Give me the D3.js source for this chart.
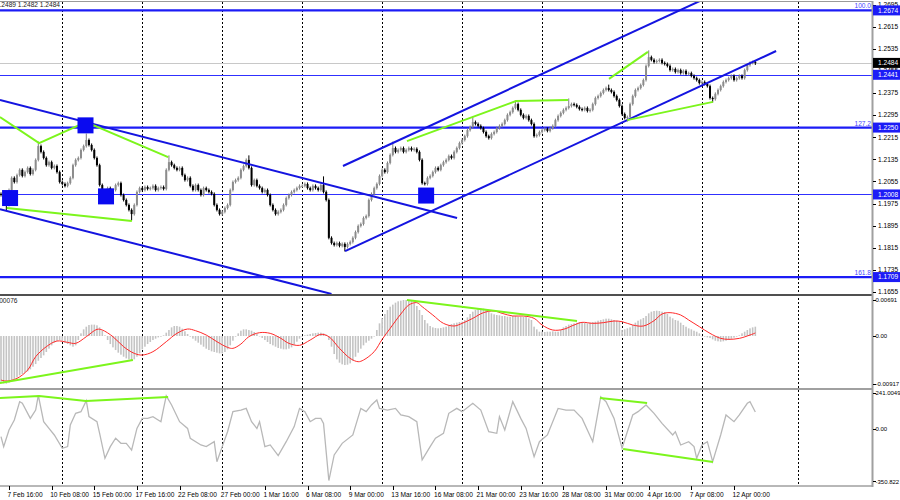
<!DOCTYPE html>
<html><head><meta charset="utf-8">
<script src="https://cdn.jsdelivr.net/npm/d3@7"></script>
<style>
body{margin:0;background:#fff}
svg{display:block}
text{font-family:"Liberation Sans",Arial,sans-serif;font-size:6.6px}
</style></head>
<body><svg id="c" width="900" height="500"></svg>
<script>
// ---------------- DATA ----------------
const headerText = "1.2489 1.2482 1.2484";
const macdHeader = "0.00076";
const firstBar = -3;
const firstOpen = 1.2010;
const closes = [
1.2006,1.1988,1.1970,
1.2024,1.2068,1.2053,1.2078,1.2097,1.2075,1.2089,1.2104,1.2082,1.2097,
1.2133,1.2183,1.2162,1.2140,1.2114,1.2125,1.2104,1.2111,1.2089,1.2053,
1.2046,1.2039,1.2049,1.2068,1.2114,1.2133,1.2140,1.2169,1.2183,1.2205,
1.2187,1.2169,1.2140,1.2114,1.2042,1.2006,1.2017,1.2031,1.2013,1.2024,
1.2042,1.2049,1.2006,1.1988,1.1970,1.1952,1.1937,1.1970,1.2017,1.2031,
1.2024,1.2035,1.2028,1.2031,1.2039,1.2024,1.2031,1.2035,1.2028,1.2097,
1.2125,1.2114,1.2104,1.2097,1.2104,1.2078,1.2060,1.2068,1.2039,1.2024,
1.2042,1.2024,1.2006,1.2031,1.2024,1.2017,1.2010,1.1970,1.1952,1.1937,
1.1945,1.1959,1.1970,1.2024,1.2053,1.2060,1.2068,1.2097,1.2111,1.2133,
1.2104,1.2042,1.2060,1.2039,1.2031,1.2017,1.2024,1.2006,1.1970,1.1952,
1.1937,1.1945,1.1952,1.1970,1.1995,1.2006,1.2017,1.2024,1.2031,1.2039,
1.2039,1.2046,1.2031,1.2024,1.2039,1.2031,1.2024,1.2042,1.2017,1.1988,
1.1851,1.1832,1.1825,1.1832,1.1822,1.1829,1.1818,1.1829,1.1836,1.1851,
1.1872,1.1894,1.1901,1.1923,1.1930,1.1988,1.2010,1.2031,1.2046,1.2075,
1.2097,1.2089,1.2122,1.2151,1.2176,1.2162,1.2169,1.2176,1.2162,1.2169,
1.2176,1.2169,1.2173,1.2162,1.2133,1.2049,1.2046,1.2068,1.2075,1.2089,
1.2104,1.2097,1.2114,1.2125,1.2133,1.2147,1.2140,1.2162,1.2176,1.2194,
1.2205,1.2219,1.2241,1.2252,1.2270,1.2263,1.2256,1.2248,1.2234,1.2219,
1.2212,1.2227,1.2234,1.2248,1.2256,1.2263,1.2277,1.2296,1.2306,1.2321,
1.2335,1.2314,1.2296,1.2285,1.2292,1.2277,1.2263,1.2219,1.2223,1.2234,
1.2241,1.2245,1.2238,1.2248,1.2256,1.2277,1.2292,1.2303,1.2314,1.2321,
1.2328,1.2335,1.2332,1.2325,1.2317,1.2314,1.2321,1.2310,1.2314,1.2335,
1.2357,1.2364,1.2375,1.2386,1.2393,1.2386,1.2379,1.2364,1.2350,1.2328,
1.2299,1.2285,1.2288,1.2335,1.2364,1.2386,1.2393,1.2404,1.2422,1.2473,
1.2505,1.2495,1.2487,1.2491,1.2495,1.2484,1.2480,1.2473,1.2458,1.2462,
1.2451,1.2458,1.2447,1.2455,1.2444,1.2447,1.2437,1.2429,1.2422,1.2411,
1.2415,1.2408,1.2400,1.2357,1.2353,1.2372,1.2386,1.2400,1.2415,1.2422,
1.2429,1.2437,1.2422,1.2429,1.2437,1.2429,1.2458,1.2476,1.2484,1.2487,
1.2484
];
const wickHighs = [[11,1.2194],[29,1.2223],[60,1.2144],[90,1.2144],[118,1.2068],[144,1.2194],[174,1.2285],[190,1.2343],[210,1.2350],[225,1.2400],[240,1.2524],[280,1.2489]];
const wickLows = [[-1,1.1955],[46,1.1919],[126,1.1807],[232,1.2277],[264,1.2346],[280,1.2482]];

const macdHist = [
-0.00877,-0.00909,-0.00915,-0.00896,
-0.00858,-0.00832,-0.00794,-0.00755,-0.00730,-0.00704,-0.00678,-0.00640,-0.00589,-0.00538,
-0.00474,-0.00422,-0.00371,-0.00307,-0.00243,-0.00179,-0.00128,-0.00090,-0.00077,-0.00090,
-0.00128,-0.00154,-0.00179,-0.00205,-0.00179,-0.00077,0.00051,0.00128,0.00179,0.00211,
0.00218,0.00218,0.00205,0.00166,0.00102,0.00013,-0.00077,-0.00154,-0.00218,-0.00269,
-0.00320,-0.00358,-0.00397,-0.00429,-0.00448,-0.00461,-0.00448,-0.00397,-0.00333,-0.00256,
-0.00205,-0.00154,-0.00115,-0.00077,-0.00051,-0.00026,-0.00013,0.00013,0.00064,0.00115,
0.00166,0.00192,0.00192,0.00179,0.00141,0.00090,0.00038,-0.00013,-0.00051,-0.00090,
-0.00128,-0.00166,-0.00205,-0.00243,-0.00269,-0.00294,-0.00307,-0.00320,-0.00333,-0.00333,
-0.00307,-0.00256,-0.00179,-0.00090,-0.00013,0.00051,0.00102,0.00128,0.00128,0.00115,
0.00102,0.00077,0.00038,0,-0.00038,-0.00077,-0.00115,-0.00154,-0.00179,-0.00205,
-0.00230,-0.00243,-0.00256,-0.00256,-0.00243,-0.00218,-0.00166,-0.00109,-0.00051,-0.00013,
0.00013,0.00026,0.00038,0.00051,0.00058,0.00064,0.00064,0.00051,0.00026,-0.00077,
-0.00205,-0.00346,-0.00448,-0.00512,-0.00544,-0.00557,-0.00550,-0.00525,-0.00474,-0.00397,
-0.00320,-0.00243,-0.00179,-0.00128,-0.00090,-0.00051,0,0.00115,0.00243,0.00339,
0.00422,0.00499,0.00563,0.00602,0.00640,0.00666,0.00678,0.00691,0.00691,0.00685,
0.00672,0.00640,0.00576,0.00499,0.00403,0.00307,0.00243,0.00192,0.00166,0.00154,
0.00147,0.00154,0.00166,0.00179,0.00205,0.00230,0.00243,0.00256,0.00269,0.00275,
0.00307,0.00358,0.00422,0.00467,0.00499,0.00525,0.00531,0.00525,0.00499,0.00461,
0.00435,0.00416,0.00403,0.00397,0.00384,0.00384,0.00371,0.00371,0.00384,0.00384,
0.00371,0.00371,0.00371,0.00371,0.00339,0.00307,0.00179,0.00128,0.00083,0.00083,
0.00077,0.00083,0.00083,0.00090,0.00083,0.00083,0.00115,0.00166,0.00192,0.00218,
0.00230,0.00243,0.00256,0.00269,0.00269,0.00256,0.00243,0.00256,0.00269,0.00275,
0.00294,0.00307,0.00320,0.00333,0.00333,0.00320,0.00307,0.00294,0.00275,0.00115,
0.00128,0.00147,0.00166,0.00211,0.00256,0.00294,0.00320,0.00346,0.00384,0.00435,
0.00467,0.00480,0.00486,0.00480,0.00467,0.00461,0.00422,0.00371,0.00339,0.00307,
0.00294,0.00256,0.00211,0.00179,0.00147,0.00128,0.00102,0.00083,0.00051,0,
-0.00013,-0.00026,-0.00038,-0.00064,-0.00090,-0.00102,-0.00109,-0.00102,-0.00090,-0.00077,
-0.00051,-0.00032,-0.00013,0.00013,0.00051,0.00083,0.00115,0.00147,0.00166,0.00179
];
const signalBars = [-3,-1,3,7,10,14,18,22,25,29,33,35,39,43,47,50,54,59,63,67,70,74,78,82,84,87,90,94,98,102,105,109,113,117,120,124,128,131,133,137,140,143,147,150,153,155,159,163,167,170,174,178,182,185,189,193,197,200,204,208,212,215,219,223,227,230,234,238,242,245,248,252,255,259,263,267,270,274,278,280];
const signalValues = [-0.00845,-0.00864,-0.00813,-0.00653,-0.00397,-0.00205,-0.00096,-0.00122,-0.00141,-0.00013,0.00128,0.00115,-0.00013,-0.00205,-0.00333,-0.00365,-0.00301,-0.00109,0.00051,0.00134,0.00102,0.00019,-0.00109,-0.00218,-0.00237,-0.00154,-0.00013,0.00064,0.00051,-0.00045,-0.00141,-0.00179,-0.00077,0.00032,-0.00013,-0.00237,-0.00429,-0.00493,-0.00461,-0.00301,-0.00064,0.00147,0.00422,0.00595,0.00640,0.00563,0.00403,0.00243,0.00192,0.00243,0.00339,0.00448,0.00480,0.00435,0.00384,0.00384,0.00339,0.00211,0.00115,0.00128,0.00211,0.00262,0.00243,0.00256,0.00288,0.00275,0.00211,0.00192,0.00294,0.00422,0.00448,0.00403,0.00307,0.00179,0.00051,-0.00045,-0.00064,-0.00045,0.00019,0.00058];

const cciBars = [-3,-2,0,2,4,5,8,10,11,13,15,17,20,22,23,25,27,29,30,33,34,36,38,40,42,44,46,48,50,52,54,57,58,59,61,64,67,68,72,74,77,78,80,82,84,87,89,91,93,94,96,98,101,104,107,109,111,113,115,117,118,120,122,125,129,132,134,136,138,139,142,145,147,150,153,155,158,160,163,165,168,170,174,177,180,183,184,186,189,192,194,197,199,202,206,209,212,215,219,222,224,227,230,234,236,239,242,245,249,250,252,255,257,258,260,262,264,267,269,272,274,277,278,280];
const cciValues = [-51,-118,-7,60,183,172,71,127,225,49,4,-40,-129,-118,27,105,116,190,83,49,-29,-196,-118,-62,-96,-96,-141,4,71,71,83,49,138,222,161,49,4,-62,-107,-118,-85,-219,-118,-18,116,127,138,49,4,49,-118,-107,-178,-85,16,138,116,49,71,71,38,-345,-174,-96,-40,138,116,161,194,138,127,138,94,83,49,-207,-118,-62,-29,105,138,116,172,127,-18,-29,83,-7,183,71,4,-185,-85,-40,138,127,127,71,-85,215,183,71,-129,94,116,161,105,38,-40,-18,-107,-85,-118,-196,-107,-85,-219,-40,94,49,94,172,183,114];

const dateTickBars = [0,16,32,48,64,80,96,112,128,144,160,176,192,208,224,240,256,272];
const dateTickLabels = ["7 Feb 16:00","10 Feb 08:00","15 Feb 00:00","17 Feb 16:00","22 Feb 08:00","27 Feb 00:00","1 Mar 16:00","6 Mar 08:00","9 Mar 00:00","13 Mar 16:00","16 Mar 08:00","21 Mar 00:00","23 Mar 16:00","28 Mar 08:00","31 Mar 00:00","4 Apr 16:00","7 Apr 08:00","12 Apr 00:00"];
const gridBars = [20,50,80,110,140,170,200,230,260,296];
const priceTicks = [1.2695,1.2615,1.2535,1.2455,1.2375,1.2295,1.2215,1.2135,1.2055,1.1975,1.1895,1.1815,1.1735,1.1655];
const fibLevels = [1.2674,1.2250,1.1709];
const fibLabels = ["100.0","127.2","161.8"];
const srLevels = [1.2441,1.2008];
const lastPrice = 1.2484;
const macdTicks = [0.00691,0,-0.00917];
const macdTickLabels = ["0.00691","0.00","-0.00917"];
const cciTicks = [241.0049,0,-350.822];
const cciTickLabels = ["241.0049","0.00","-350.822"];

const channelLines = [
  [[-3.4,1.2350],[168.1,1.1923]],
  [[-3.4,1.1955],[121,1.1648]],
  [[125.3,1.2111],[259.2,1.2708]],
  [[126.1,1.1803],[287.8,1.2527]]
];
const priceGreen = [
  [[-3.4,1.2288],[11.3,1.2194],[28.9,1.2270],[59.7,1.2143]],
  [[-0.8,1.1959],[46.1,1.1912]],
  [[149.3,1.2201],[190.2,1.2346],[209.7,1.2350]],
  [[225.1,1.2426],[239.7,1.2524]],
  [[231.9,1.2277],[264.1,1.2343]]
];
const macdGreen = [
  [[-3.4,-0.00902],[46.5,-0.00461]],
  [[149.3,0.00691],[213.1,0.00288]]
];
const cciGreen = [
  [[-3.4,207],[11.3,221],[28.9,187],[59.7,214]],
  [[221.7,207],[239.4,174]],
  [[230.4,-134],[264.1,-221]]
];
const squareMarks = [[0.4,1.1995],[28.7,1.2258],[36.4,1.2001],[156.5,1.2004]];

// ---------------- DRAW ----------------
const svg = d3.select("#c");
const R = 872;
const x = d3.scaleLinear().domain([0,272]).range([9,734]);
const yP = d3.scaleLinear().domain([1.1655,1.2695]).range([292,4.6]);
const yM = d3.scaleLinear().domain([-0.00917,0.00691]).range([383.8,300]);
const yC = d3.scaleLinear().domain([-350.822,241.0049]).range([481.4,393]);

const defs = svg.append("defs");
function clip(id,y0,h){defs.append("clipPath").attr("id",id).append("rect").attr("x",0).attr("y",y0).attr("width",R).attr("height",h);}
clip("cm",2,292); clip("cd",296,92); clip("cc",390,96);

const BLUE="#1c1cf6", LIME="#7cf51c";

// vertical dashed grid
svg.append("g").selectAll("line").data(gridBars).join("line")
  .attr("x1",d=>Math.round(x(d))+0.5).attr("x2",d=>Math.round(x(d))+0.5)
  .attr("y1",2).attr("y2",486).attr("stroke","#000").attr("stroke-width",1).attr("stroke-dasharray","2,2");

// ---- main panel
const gm = svg.append("g").attr("clip-path","url(#cm)");
gm.append("line").attr("x1",0).attr("x2",R).attr("y1",Math.round(yP(lastPrice))+0.5).attr("y2",Math.round(yP(lastPrice))+0.5).attr("stroke","#c8c8c8");
gm.selectAll("line.fib").data(fibLevels).join("line").attr("class","fib")
  .attr("x1",0).attr("x2",R).attr("y1",d=>yP(d)).attr("y2",d=>yP(d)).attr("stroke",BLUE).attr("stroke-width",2.2);
gm.selectAll("line.sr").data(srLevels).join("line").attr("class","sr")
  .attr("x1",0).attr("x2",R).attr("y1",d=>Math.round(yP(d))+0.5).attr("y2",d=>Math.round(yP(d))+0.5).attr("stroke","#3030ff").attr("stroke-width",1);

// candles
const bars = closes.map((c,k)=>{const o=k?closes[k-1]:firstOpen;return {i:firstBar+k,o,c,h:Math.max(o,c),l:Math.min(o,c)};});
wickHighs.forEach(([i,v])=>{const b=bars[i-firstBar]; if(b) b.h=Math.max(b.h,v);});
wickLows.forEach(([i,v])=>{const b=bars[i-firstBar]; if(b) b.l=Math.min(b.l,v);});
const cg = gm.append("g");
cg.selectAll("line").data(bars).join("line")
  .attr("x1",d=>x(d.i)).attr("x2",d=>x(d.i))
  .attr("y1",d=>yP(d.h)-1.5).attr("y2",d=>yP(d.l)+1.5)
  .attr("stroke",d=>d.c>=d.o?"#808080":"#000").attr("stroke-width",1);
cg.selectAll("rect").data(bars).join("rect")
  .attr("x",d=>x(d.i)-1).attr("width",2)
  .attr("y",d=>Math.min(yP(d.o),yP(d.c)))
  .attr("height",d=>Math.max(1,Math.abs(yP(d.o)-yP(d.c))))
  .attr("fill",d=>d.c>=d.o?"#8c8c8c":"#000");

const lineP = d3.line().x(d=>x(d[0])).y(d=>yP(d[1]));
gm.selectAll("path.ch").data(channelLines).join("path").attr("class","ch")
  .attr("d",lineP).attr("fill","none").attr("stroke","#1414e0").attr("stroke-width",2);
gm.selectAll("path.gr").data(priceGreen).join("path").attr("class","gr")
  .attr("d",lineP).attr("fill","none").attr("stroke",LIME).attr("stroke-width",2);
gm.selectAll("rect.sq").data(squareMarks).join("rect").attr("class","sq")
  .attr("x",d=>x(d[0])-8).attr("y",d=>yP(d[1])-8).attr("width",16).attr("height",16).attr("fill","#0a0af0");

// ---- MACD panel
const gd = svg.append("g").attr("clip-path","url(#cd)");
gd.selectAll("rect").data(macdHist).join("rect")
  .attr("x",(d,k)=>x(firstBar+k)-0.8).attr("width",1.6)
  .attr("y",d=>Math.min(yM(0),yM(d))).attr("height",d=>Math.max(0.5,Math.abs(yM(d)-yM(0))))
  .attr("fill","#c4c4c4");
gd.append("path").datum(signalBars.map((b,k)=>[b,signalValues[k]]))
  .attr("d",d3.line().x(d=>x(d[0])).y(d=>yM(d[1])).curve(d3.curveCatmullRom))
  .attr("fill","none").attr("stroke","#ff2a2a").attr("stroke-width",1);
gd.selectAll("path.gr").data(macdGreen).join("path").attr("class","gr")
  .attr("d",d3.line().x(d=>x(d[0])).y(d=>yM(d[1]))).attr("fill","none").attr("stroke",LIME).attr("stroke-width",2);

// ---- CCI panel
const gc = svg.append("g").attr("clip-path","url(#cc)");
gc.append("path").datum(cciBars.map((b,k)=>[b,cciValues[k]]))
  .attr("d",d3.line().x(d=>x(d[0])).y(d=>yC(d[1])))
  .attr("fill","none").attr("stroke","#b8b8b8").attr("stroke-width",1.3);
gc.selectAll("path.gr").data(cciGreen).join("path").attr("class","gr")
  .attr("d",d3.line().x(d=>x(d[0])).y(d=>yC(d[1]))).attr("fill","none").attr("stroke",LIME).attr("stroke-width",2);

// ---- frame
svg.append("line").attr("x1",0).attr("x2",R).attr("y1",1.5).attr("y2",1.5).attr("stroke","#9a9a9a");
svg.append("line").attr("x1",0).attr("x2",R+1).attr("y1",295).attr("y2",295).attr("stroke","#505050").attr("stroke-width",2);
svg.append("line").attr("x1",0).attr("x2",R+1).attr("y1",389).attr("y2",389).attr("stroke","#a0a0a0").attr("stroke-width",2);
svg.append("line").attr("x1",0).attr("x2",R+1).attr("y1",486).attr("y2",486).attr("stroke","#707070").attr("stroke-width",1);
svg.append("line").attr("x1",R+0.5).attr("x2",R+0.5).attr("y1",1).attr("y2",487).attr("stroke","#a0a0a0").attr("stroke-width",2);

// right axis
const ax = svg.append("g");
function rtick(y,label,bg,tx,fs){
  ax.append("line").attr("x1",R+1).attr("x2",R+4).attr("y1",Math.round(y)+0.5).attr("y2",Math.round(y)+0.5).attr("stroke","#000");
  if(bg){ax.append("rect").attr("x",R+1).attr("y",y-5).attr("width",27).attr("height",10).attr("fill",bg);}
  const t=ax.append("text").attr("x",tx||R+6).attr("y",y).attr("dy","0.35em").attr("fill",bg?"#fff":"#000").text(label);
  if(fs) t.style("font-size",fs+"px");
}
priceTicks.forEach(p=>rtick(yP(p),p.toFixed(4)));
fibLevels.forEach(p=>rtick(yP(p),p.toFixed(4),BLUE));
srLevels.forEach(p=>rtick(yP(p),p.toFixed(4),BLUE));
rtick(yP(lastPrice),lastPrice.toFixed(4),"#000");
macdTicks.forEach((v,k)=>rtick(yM(v),macdTickLabels[k],null,R+3.5,6));
cciTicks.forEach((v,k)=>rtick(yC(v),cciTickLabels[k],null,R+3.5,6));

// fib labels
svg.selectAll("text.fl").data(fibLevels).join("text").attr("class","fl")
  .attr("x",R-1).attr("y",d=>yP(d)-2).attr("text-anchor","end").attr("fill","#4646ff").text((d,k)=>fibLabels[k]);

// bottom axis
const bx = svg.append("g");
bx.selectAll("line").data(dateTickBars).join("line")
  .attr("x1",d=>Math.round(x(d))+0.5).attr("x2",d=>Math.round(x(d))+0.5).attr("y1",486).attr("y2",490).attr("stroke","#000");
bx.selectAll("text").data(dateTickBars).join("text")
  .attr("x",d=>x(d)-1.5).attr("y",496.5).attr("fill","#000").text((d,k)=>dateTickLabels[k]);

// headers
svg.append("text").attr("x",60).attr("y",7).attr("text-anchor","end").attr("fill","#222").text(headerText);
svg.append("text").attr("x",17.5).attr("y",303).attr("text-anchor","end").attr("fill","#222").text(macdHeader);
</script></body></html>
